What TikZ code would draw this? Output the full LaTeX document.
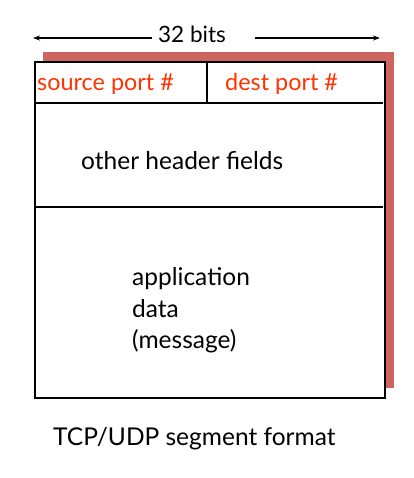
\documentclass[tikz,border=0pt]{standalone}
\usepackage{fontspec}
\setmainfont{Lato}
\usetikzlibrary{arrows.meta}
\begin{document}
\begin{tikzpicture}[x=1pt,y=-1pt,
  box/.style={draw=black,line width=2.2pt},
  lbl/.style={inner sep=0pt,anchor=base west,font=\fontsize{24.5}{30}\selectfont},
  red/.style={lbl,text=portred,font=\fontsize{23.4}{28}\selectfont},
  dim/.style={-{Stealth[length=7pt,width=5pt]},line width=1.2pt}]
\definecolor{portred}{RGB}{255,51,0}
\definecolor{shadow}{RGB}{205,100,95}
\useasboundingbox (0,0) rectangle (413,478);
\fill[shadow] (43,52) rectangle (394,388);
\draw[box,fill=white] (35,62) rectangle (385,398);
\draw[box] (35,103) -- (383,103);
\draw[box] (207,62) -- (207,103);
\draw[box] (35,207) -- (383,207);
\node[lbl,anchor=base,font=\fontsize{22.5}{27}\selectfont] (bits) at (192,43) {32 bits};
\coordinate (la) at (152,38);
\coordinate (lb) at (33,38);
\coordinate (ra) at (255,38);
\coordinate (rb) at (380,38);
\draw[dim] (la) -- (lb);
\draw[dim] (ra) -- (rb);
\node[red] (src) at (37,91) {source port \#};
\node[red] (dst) at (225,91) {dest port \#};
\node[lbl] (oth) at (81,170) {other header fields};
\node[lbl] (app1) at (132,285) {application};
\node[lbl] (app2) at (132,317) {data};
\node[lbl] (app3) at (132,348) {(message)};
\node[lbl] (cap) at (53,445) {TCP/UDP segment format};
\end{tikzpicture}
\end{document}
